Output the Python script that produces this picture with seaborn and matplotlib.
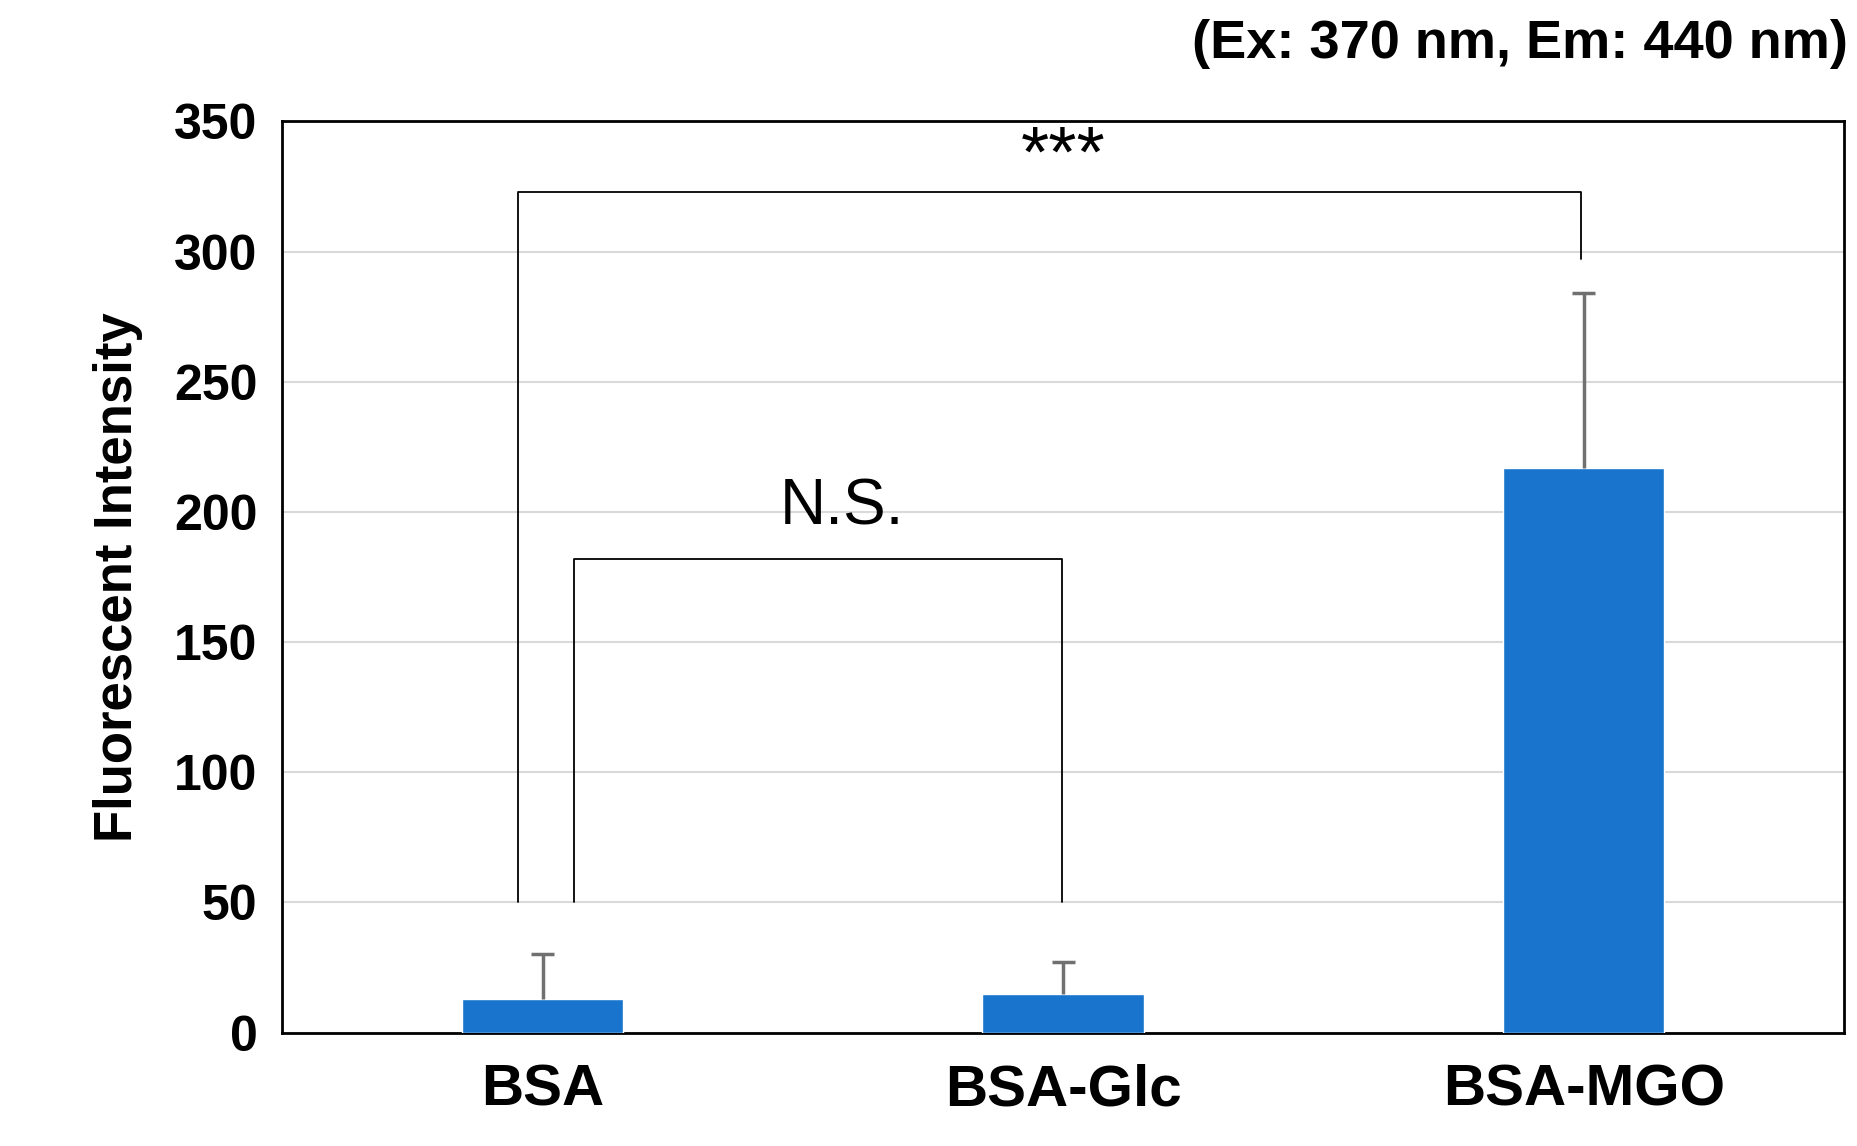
import matplotlib
matplotlib.use("Agg")
import matplotlib.pyplot as plt
import seaborn as sns
import pandas as pd

categories = ["BSA", "BSA-Glc", "BSA-MGO"]
means = [13, 15, 217]
errors = [17, 12, 67]

sns.set_style("white")
plt.rcParams['font.family'] = ['Liberation Sans', 'DejaVu Sans']
plt.rcParams['text.color'] = 'black'
plt.rcParams['axes.labelcolor'] = 'black'
plt.rcParams['xtick.color'] = 'black'
plt.rcParams['ytick.color'] = 'black'

fig = plt.figure(figsize=(18.57, 11.46), dpi=100)
ax = fig.add_axes([0.152, 0.099, 0.841, 0.795])
df = pd.DataFrame({"cat": categories, "val": means})
sns.barplot(data=df, x="cat", y="val", color="#1874CD", saturation=1, width=0.31, ax=ax, zorder=3)
xs = [0, 1, 2]
tops = [m + e for m, e in zip(means, errors)]
ax.vlines(xs, means, tops, color="#707070", lw=2.5, zorder=4)
ax.hlines(tops, [x - 0.022 for x in xs], [x + 0.022 for x in xs], color="#707070", lw=2.5, zorder=4)
ax.set_ylim(0, 350)
ax.set_xlim(-0.5, 2.5)
ax.set_yticks(range(0, 351, 50))
ax.yaxis.grid(True, color="#d9d9d9", linewidth=1.5, zorder=0)
ax.set_axisbelow(True)
for s in ax.spines.values():
    s.set_color("black"); s.set_linewidth(2)
ax.tick_params(axis="y", length=0, labelsize=36, pad=18)
ax.tick_params(axis="x", length=0, labelsize=42, pad=22)
for t in ax.get_xticklabels() + ax.get_yticklabels():
    t.set_fontweight("bold")
ax.set_xlabel("")
ax.set_ylabel("Fluorescent Intensity", fontsize=38, fontweight="bold", labelpad=22)

# significance brackets
ax.plot([-0.048, -0.048, 1.995, 1.995], [50, 323, 323, 297], color="black", lw=1.3, zorder=5)
ax.text(1.0, 323, "***", ha="center", va="bottom", fontsize=52)
ax.plot([0.06, 0.06, 0.997, 0.997], [50, 182, 182, 50], color="black", lw=1.3, zorder=5)
ax.text(0.575, 190, "N.S.", ha="center", va="bottom", fontsize=46)

fig.text(0.995, 0.94, "(Ex: 370 nm, Em: 440 nm)", ha="right", va="bottom",
         fontsize=39, fontweight="bold")
fig.savefig("out.png", dpi=100)
